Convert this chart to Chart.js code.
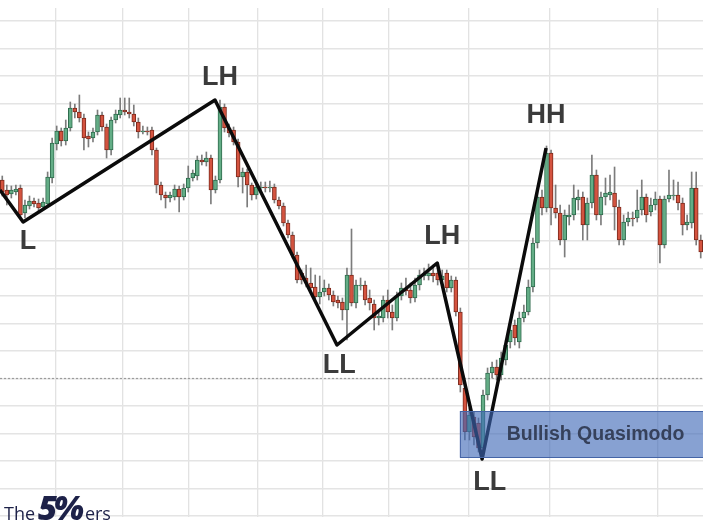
<!DOCTYPE html>
<html>
<head>
<meta charset="utf-8">
<title>Bullish Quasimodo</title>
<script src="https://cdn.jsdelivr.net/npm/chart.js@4.4.1/dist/chart.umd.min.js"></script>
<style>
  body { margin: 0; background: #fff; }
  #wrap { position: relative; width: 703px; height: 527px; }
  #logo { position: absolute; left: 4px; top: 491px; color: #1d2148; font-family: 'Open Sans', sans-serif; white-space: nowrap; line-height: 1; }
  #logo .small { font-size: 18px; }
  #logo .big { font-size: 33px; font-weight: 800; font-style: italic; letter-spacing: -4px; margin: 0 0 0 3px; }
  #logo .tail { margin-left: 5px; }
</style>
</head>
<body>
<div id="wrap">
  <canvas id="chart"></canvas>
  <div id="logo"><span class="small">The</span><span class="big">5%</span><span class="small tail">ers</span></div>
</div>
<script>
// Kerzen (Open / High / Low / Close)
const openValues = [336,326,322,324,328,303,310,315,313,309, 312,338,372,385,375,388,408,404,398,380,
  378,384,401,389,366,396,401,406,404,402, 394,384,385,386,366,331,321,318,319,327,
  319,328,338,340,356,354,358,326,336,409, 388,386,374,339,344,331,321,328,329,328,
  329,316,310,293,281,261,243,238,233,229, 219,224,228,221,216,214,206,241,213,230,
  231,218,212,198,198,216,204,198,220,228, 226,218,231,240,240,243,243,236,243,228,
  236,204,128,84,99,93,68,121,143,149, 141,156,174,191,174,198,204,229,273,319,
  308,363,308,303,276,299,301,316,319,291, 313,341,301,319,321,323,309,276,294,298,
  298,306,319,304,311,317,271,317,320,321, 313,291,293,328,276];
const highValues = [340,331,330,331,331,316,320,318,317,318, 344,378,390,388,396,414,412,421,402,384,
  388,406,404,392,399,406,418,418,418,411, 398,390,389,389,368,334,324,324,331,330,
  332,350,346,360,361,364,361,340,416,412, 392,389,377,348,347,333,334,334,334,335,
  332,319,313,296,284,264,246,251,248,241, 240,236,232,225,220,218,248,287,236,238,
  235,226,216,205,220,226,211,224,233,238, 233,238,246,248,252,251,248,246,246,240,
  239,208,132,108,104,98,126,148,154,156, 164,176,191,196,204,211,236,278,324,326,
  370,366,331,311,306,311,331,326,324,318, 361,346,324,338,341,349,316,301,304,304,
  326,336,322,318,324,320,320,346,336,334, 318,301,344,344,281];
const lowValues = [320,311,318,321,298,298,307,309,305,306, 310,333,366,370,371,385,398,394,366,369,
  374,381,385,358,361,393,398,401,398,390, 378,382,381,361,323,316,308,314,316,304,
  316,324,335,336,351,350,312,323,333,384, 379,371,329,323,309,316,317,324,324,324,
  313,307,290,278,258,233,232,229,224,216, 212,220,216,210,208,196,176,210,208,226,
  211,206,186,191,194,198,186,195,216,221, 213,214,226,236,236,234,231,232,224,224,
  200,124,76,76,71,64,61,116,138,136, 136,151,168,171,168,194,201,224,268,301,
  304,291,298,271,259,291,296,306,276,276, 308,296,291,311,316,286,271,271,290,290,
  294,301,294,300,306,253,268,314,316,306, 281,286,288,271,258];
const closeValues = [324,321,326,327,301,311,315,312,308,314, 339,373,385,375,388,408,404,398,378,377,
  384,401,389,366,396,402,406,404,402,394, 384,385,384,366,331,321,318,321,327,319,
  328,338,343,356,354,358,326,336,409,388, 383,374,339,344,331,321,329,329,328,329,
  316,310,293,281,261,236,236,233,228,219, 224,228,221,214,213,206,241,213,231,231,
  216,213,198,200,216,204,198,220,228,225, 218,231,241,242,243,240,236,240,228,236,
  204,131,84,101,79,68,121,143,149,141, 158,171,186,178,198,204,229,273,319,308,
  363,308,303,276,301,301,318,319,291,313, 341,301,319,323,324,309,276,294,298,297,
  306,319,301,311,317,271,317,321,321,313, 291,294,328,276,264];

// Zickzack-Linie (Hochs und Tiefs)
const swingX = [-0.5, 4.6, 46.9, 73.8, 95.9, 105.8, 119.9];
const swingY = [326, 294, 416, 171, 253, 57, 368];

// Beschriftungen der Hochs/Tiefs
const pivotLabels = ['L', 'LH', 'LL', 'LH', 'HH', 'LL'];
const pivotLabelX = [5.7, 48.0, 74.3, 97.0, 119.9, 107.5];
const pivotLabelY = [274, 438, 150, 279, 400, 33];

// Zone und gepunktete Linie
const zoneLabel = 'Bullish Quasimodo';
const zoneStart = 100.9;
const zoneEnd = 156;
const zoneLow = 59;
const zoneHigh = 105;
const zoneLabelX = 130.8;
const zoneLabelY = 81;
const dottedLevel = 137.5;

// Gitterlinien
const xGridTicks = [11.85, 26.6, 41.2, 56.2, 70.7, 85.3, 102.9, 120.6, 144.4];
const yGridTicks = [0, 27.5, 55, 82.5, 110, 137.5, 165, 192.5, 220, 247.5, 275, 302.5, 330, 357.5, 385, 412.5, 440, 467.5, 495];

const UP = '#63ad86', UP_BORDER = '#2f6b4d';
const DOWN = '#d4533f', DOWN_BORDER = '#7d2a1d';

const bodies = openValues.map((o, i) => ({ x: i, y: [o, closeValues[i]] }));
const wicks = lowValues.map((l, i) => ({ x: i, y: [l, highValues[i]] }));
const isUp = i => closeValues[i] >= openValues[i];

const overlayPlugin = {
    id: 'overlay',
    afterDatasetsDraw(chart) {
        const { ctx, scales: { x, y } } = chart;
        ctx.save();

        // Bullish Quasimodo Zone
        const left = x.getPixelForValue(zoneStart);
        const right = x.getPixelForValue(zoneEnd);
        const top = y.getPixelForValue(zoneHigh);
        const bottom = y.getPixelForValue(zoneLow);
        ctx.fillStyle = 'rgba(62, 104, 182, 0.62)';
        ctx.fillRect(left, top, right - left, bottom - top);
        ctx.strokeStyle = '#4464a6';
        ctx.lineWidth = 1;
        ctx.strokeRect(left + 0.5, top + 0.5, right - left, bottom - top);

        ctx.textAlign = 'center';
        ctx.textBaseline = 'middle';
        ctx.font = 'bold 19.5px "Liberation Sans", Arial, sans-serif';
        ctx.fillStyle = '#36415b';
        ctx.fillText(zoneLabel, x.getPixelForValue(zoneLabelX), y.getPixelForValue(zoneLabelY));

        // L / LH / LL / HH
        ctx.font = 'bold 27px "Liberation Sans", Arial, sans-serif';
        ctx.fillStyle = '#3b3b3b';
        pivotLabels.forEach((text, i) => {
            ctx.fillText(text, x.getPixelForValue(pivotLabelX[i]), y.getPixelForValue(pivotLabelY[i]));
        });
        ctx.restore();
    }
};

new Chart(document.getElementById('chart'), {
    type: 'bar',
    data: {
        datasets: [
            {
                type: 'line',
                data: swingX.map((v, i) => ({ x: v, y: swingY[i] })),
                borderColor: '#0b0b0b',
                borderWidth: 3.5,
                borderJoinStyle: 'round',
                pointRadius: 0,
                tension: 0,
                order: 0
            },
            {
                data: bodies,
                backgroundColor: ctx => isUp(ctx.dataIndex) ? UP : DOWN,
                borderColor: ctx => isUp(ctx.dataIndex) ? UP_BORDER : DOWN_BORDER,
                borderWidth: 1,
                borderSkipped: false,
                barThickness: 4,
                grouped: false,
                order: 1
            },
            {
                data: wicks,
                backgroundColor: '#7c7c7c',
                barThickness: 1,
                grouped: false,
                order: 2
            },
            {
                type: 'line',
                data: [{ x: -0.5, y: dottedLevel }, { x: 154.5, y: dottedLevel }],
                borderColor: '#9c9c9c',
                borderWidth: 1.2,
                borderDash: [2, 2],
                pointRadius: 0,
                order: 3
            }
        ]
    },
    options: {
        responsive: true,
        maintainAspectRatio: false,
        animation: false,
        layout: { padding: { top: 8, bottom: 10, left: 0, right: 0 } },
        plugins: {
            legend: { display: false },
            tooltip: { enabled: false }
        },
        scales: {
            x: {
                type: 'linear',
                min: -0.5,
                max: 154.5,
                offset: false,
                afterBuildTicks: scale => { scale.ticks = xGridTicks.map(v => ({ value: v })); },
                ticks: { display: false },
                grid: { color: '#e2e2e2', lineWidth: 1.3, drawTicks: false, offset: false },
                border: { display: false }
            },
            y: {
                min: -1,
                max: 508,
                afterBuildTicks: scale => { scale.ticks = yGridTicks.map(v => ({ value: v })); },
                ticks: { display: false },
                grid: { color: '#e4e4e4', lineWidth: 1.5, drawTicks: false },
                border: { display: false }
            }
        }
    },
    plugins: [overlayPlugin]
});
</script>
</body>
</html>
